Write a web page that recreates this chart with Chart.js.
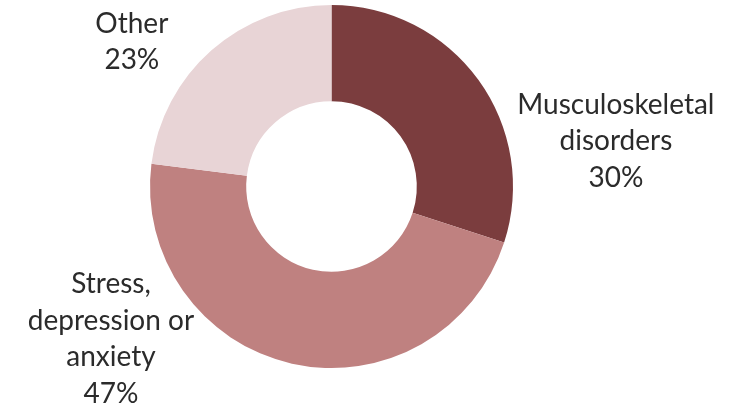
<!DOCTYPE html>
<html>
<head>
<meta charset="utf-8">
<script src="https://cdn.jsdelivr.net/npm/chart.js@4"></script>
<style>
  html, body { margin: 0; padding: 0; background: #ffffff; }
  #wrap { width: 734px; height: 414px; }
</style>
</head>
<body>
<div id="wrap"><canvas id="c" width="734" height="414"></canvas></div>
<script>
// Share of work-related ill health by type (percent)
const categories = ['Musculoskeletal disorders', 'Stress, depression or anxiety', 'Other'];
const labelLines = [['Musculoskeletal', 'disorders'], ['Stress,', 'depression or', 'anxiety'], ['Other']];
const shares = [30, 47, 23];
const sliceColors = ['#7b3d3e', '#bf8180', '#e8d4d6'];

// Label block placement, as multiples of the outer radius from the centre
const labelOffsets = [
  { dx: 1.567, dy: -0.25 },
  { dx: -1.215, dy: 0.84 },
  { dx: -1.10, dy: -0.796 }
];

const outsideLabels = {
  id: 'outsideLabels',
  afterDatasetsDraw(chart) {
    const ctx = chart.ctx;
    const meta = chart.getDatasetMeta(0);
    const lineH = 36.5;
    ctx.save();
    ctx.font = '28px Lato, "Open Sans", sans-serif';
    ctx.fillStyle = '#2b2b2b';
    ctx.textAlign = 'center';
    ctx.textBaseline = 'middle';
    meta.data.forEach((arc, i) => {
      const r = arc.outerRadius;
      const lines = labelLines[i].concat([chart.data.datasets[0].data[i] + '%']);
      const cx = arc.x + labelOffsets[i].dx * r;
      const cy = arc.y + labelOffsets[i].dy * r;
      const top = cy - (lines.length - 1) * lineH / 2;
      lines.forEach((t, k) => ctx.fillText(t, cx, top + k * lineH));
    });
    ctx.restore();
  }
};

new Chart(document.getElementById('c'), {
  type: 'doughnut',
  data: {
    labels: categories,
    datasets: [{
      data: shares,
      backgroundColor: sliceColors,
      borderWidth: 0
    }]
  },
  options: {
    responsive: false,
    animation: false,
    cutout: '47%',
    layout: { padding: { top: 5, bottom: 46, left: 0, right: 71 } },
    plugins: {
      legend: { display: false },
      tooltip: { enabled: false }
    }
  },
  plugins: [outsideLabels]
});
</script>
</body>
</html>
